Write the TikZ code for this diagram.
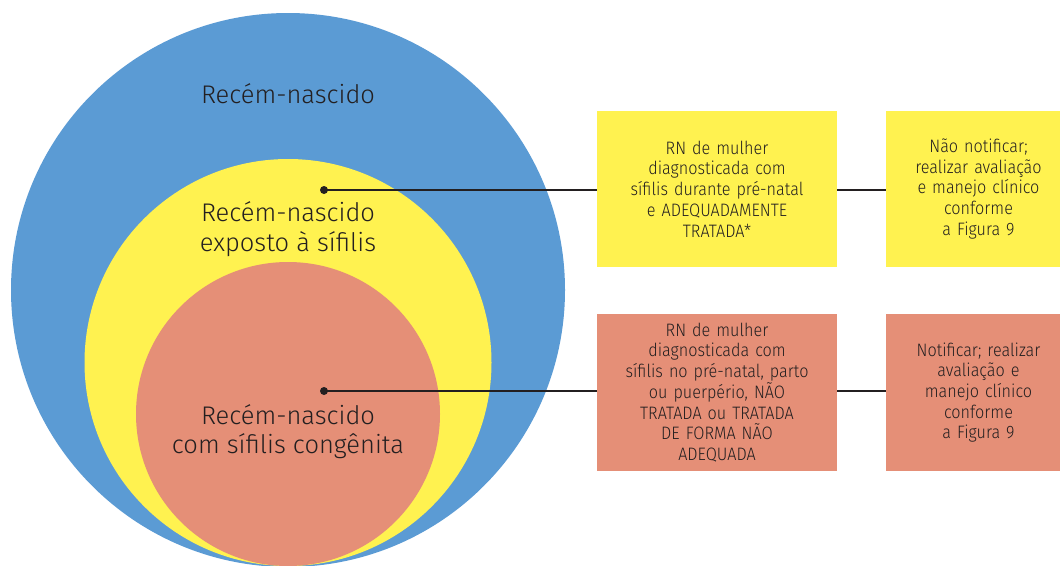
\documentclass[tikz,border=0pt]{standalone}
\usepackage{fontspec}
\setmainfont{Fira Sans}[UprightFont={* Light}]
\newfontfamily\boxfont{Fira Sans}[UprightFont={* Light},FakeStretch=0.9]
\definecolor{cblue}{RGB}{91,155,212}
\definecolor{cyellow}{RGB}{255,242,80}
\definecolor{csalmon}{RGB}{229,143,119}
\definecolor{ctext}{RGB}{35,31,32}
\begin{document}
\begin{tikzpicture}[x=1pt,y=-1pt,
  ring/.style={circle,inner sep=0pt,draw=none},
  biglabel/.style={anchor=base,inner sep=0pt,text=ctext,font=\fontsize{25.5}{30}\selectfont},
  boxtext/.style={inner sep=0pt,text=ctext,align=center,font=\boxfont\fontsize{18}{20.7}\selectfont},
  wide/.style={boxtext,minimum width=240pt,text width=230pt},
  narrow/.style={boxtext,minimum width=185pt,text width=180pt},
  dotmark/.style={circle,fill=ctext,inner sep=0pt,minimum size=8pt},
  link/.style={draw=ctext,line width=2pt}
]
\useasboundingbox (0,0) rectangle (1060,565);
\clip (0,0) rectangle (1060,565);
\fill[white] (0,0) rectangle (1060,565);
\node[ring,fill=cblue,minimum size=554pt] (outer) at (288,290) {};
\node[ring,fill=cyellow,minimum size=407pt] (mid) at (288,362.5) {};
\node[ring,fill=csalmon,minimum size=304pt] (inner) at (288,414) {};

\node[biglabel] (l1) at (288,103) {Recém-nascido};
\node[biglabel] (l2a) at (288,221) {Recém-nascido};
\node[biglabel] (l2b) at (288,251) {exposto à sífilis};
\node[biglabel] (l3a) at (288,424.5) {Recém-nascido};
\node[biglabel] (l3b) at (288,453.5) {com sífilis congênita};

\node[wide,fill=cyellow,minimum height=156pt] (b1) at (717,189) {RN de mulher\\diagnosticada com\\sífilis durante pré-natal\\e ADEQUADAMENTE\\TRATADA*};
\node[narrow,fill=cyellow,minimum height=156pt] (b2) at (978.5,189) {Não notificar;\\realizar avaliação\\e manejo clínico\\conforme\\a Figura 9};
\node[wide,fill=csalmon,minimum height=157pt] (b3) at (717,392.5) {RN de mulher\\diagnosticada com\\sífilis no pré-natal, parto\\ou puerpério, NÃO\\TRATADA ou TRATADA\\DE FORMA NÃO\\ADEQUADA};
\node[narrow,fill=csalmon,minimum height=157pt] (b4) at (978.5,392.5) {Notificar; realizar\\avaliação e\\manejo clínico\\conforme\\a Figura 9};

\node[dotmark] (d1) at (324,190) {};
\node[dotmark] (d2) at (324,391) {};

\draw[link] (d1.center) -- (d1.center -| b1.west);
\draw[link] (d1.center -| b1.east) -- (d1.center -| b2.west);
\draw[link] (d2.center) -- (d2.center -| b3.west);
\draw[link] (d2.center -| b3.east) -- (d2.center -| b4.west);
\end{tikzpicture}
\end{document}
